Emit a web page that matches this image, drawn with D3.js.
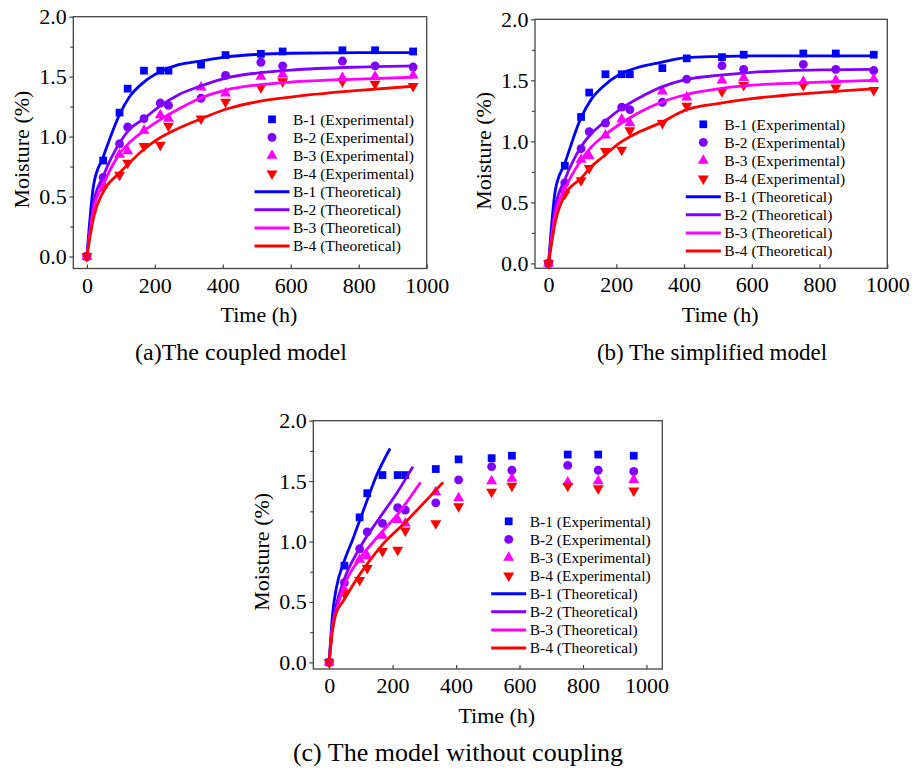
<!DOCTYPE html>
<html>
<head>
<meta charset="utf-8">
<script src="https://cdnjs.cloudflare.com/ajax/libs/d3/7.8.5/d3.min.js"></script>
<style>
    body { margin: 0; background: #fff; }
    svg text { font-family: "Liberation Serif", "Times New Roman", serif !important; fill: #000; }
    .tick line { stroke: #444; stroke-width: 1.2; }
</style>
</head>
<body>
<script>
// ---- data ----
var seriesNames = ["B-1", "B-2", "B-3", "B-4"];
var seriesColors = ["#0000ff", "#8000ff", "#ff00ff", "#ff0000"];

// experimental points (same in all three panels)
var expTime = [0, 48, 96, 120, 168, 216, 240, 336, 408, 512, 576, 752, 848, 960];
var expB1 = [0, 0.80, 1.20, 1.40, 1.55, 1.55, 1.55, 1.60, 1.68, 1.69, 1.71, 1.72, 1.72, 1.71];
var expB2 = [0, 0.66, 0.94, 1.08, 1.15, 1.28, 1.26, 1.32, 1.51, 1.62, 1.59, 1.63, 1.59, 1.58];
var expB3 = [0, 0.60, 0.85, 0.88, 1.05, 1.18, 1.15, 1.41, 1.36, 1.50, 1.52, 1.49, 1.50, 1.51];
var expB4 = [0, 0.57, 0.68, 0.78, 0.92, 0.93, 1.09, 1.15, 1.29, 1.41, 1.46, 1.46, 1.44, 1.42];

// (a) coupled model curves
var coupledTime = [0, 20, 48, 97, 125, 166, 215, 270, 333, 411, 500, 600, 800, 960];
var coupledB1 = [0, 0.60, 0.83, 1.19, 1.33, 1.45, 1.54, 1.60, 1.63, 1.665, 1.685, 1.695, 1.70, 1.70];
var coupledB2 = [0, 0.45, 0.67, 0.95, 1.06, 1.145, 1.255, 1.35, 1.42, 1.49, 1.53, 1.555, 1.58, 1.59];
var coupledB3 = [0, 0.40, 0.60, 0.86, 0.95, 1.045, 1.14, 1.23, 1.32, 1.39, 1.43, 1.455, 1.48, 1.495];
var coupledB4 = [0, 0.33, 0.54, 0.70, 0.78, 0.89, 0.99, 1.07, 1.145, 1.23, 1.29, 1.33, 1.385, 1.42];

// (b) simplified model curves
var simplifiedTime = [0, 20, 48, 97, 125, 161, 210, 270, 329, 407, 500, 600, 800, 960];
var simplifiedB1 = [0, 0.60, 0.82, 1.20, 1.34, 1.45, 1.55, 1.61, 1.645, 1.686, 1.695, 1.70, 1.70, 1.70];
var simplifiedB2 = [0, 0.46, 0.685, 0.96, 1.06, 1.15, 1.26, 1.36, 1.44, 1.507, 1.54, 1.565, 1.585, 1.59];
var simplifiedB3 = [0, 0.41, 0.61, 0.85, 0.95, 1.04, 1.14, 1.24, 1.316, 1.384, 1.43, 1.46, 1.485, 1.50];
var simplifiedB4 = [0, 0.34, 0.56, 0.70, 0.79, 0.874, 0.987, 1.08, 1.15, 1.26, 1.31, 1.35, 1.40, 1.43];

// (c) model without coupling curves (stop early)
var uncoupledTimeB1 = [0, 10, 23, 45, 76, 97, 118, 150, 192];
var uncoupledB1 = [0, 0.38, 0.62, 0.82, 1.03, 1.18, 1.33, 1.55, 1.77];
var uncoupledTimeB2 = [0, 10, 23, 45, 97, 160, 213, 264];
var uncoupledB2 = [0, 0.30, 0.48, 0.67, 0.95, 1.20, 1.40, 1.62];
var uncoupledTimeB3 = [0, 10, 23, 45, 97, 160, 223, 288];
var uncoupledB3 = [0, 0.28, 0.43, 0.62, 0.86, 1.06, 1.25, 1.49];
var uncoupledTimeB4 = [0, 10, 21, 45, 97, 160, 244, 359];
var uncoupledB4 = [0, 0.25, 0.40, 0.51, 0.73, 0.95, 1.17, 1.49];

var xTicks = [0, 200, 400, 600, 800, 1000];
var yTicks = [0, 0.5, 1.0, 1.5, 2.0];
var yMinorTicks = [0.25, 0.75, 1.25, 1.75];
var xTitle = "Time (h)";
var yTitle = "Moisture (%)";
var captions = ["(a)The coupled model", "(b) The simplified model", "(c) The model without coupling"];

// ---- drawing ----
var svg = d3.select("body").append("svg").attr("width", 914).attr("height", 770);

var symbols = [
    d3.symbol().type(d3.symbolSquare).size(60),
    d3.symbol().type(d3.symbolCircle).size(62),
    d3.symbol().type(d3.symbolTriangle).size(52),
    d3.symbol().type(d3.symbolTriangle).size(52)
];

function drawPanel(p) {
    var g = svg.append("g");
    var x = d3.scaleLinear().domain(p.xDomain).range([p.left, p.right]);
    var y = d3.scaleLinear().domain(p.yDomain).range([p.bottom, p.top]);

    // y axis, ticks pointing out
    var yAxis = g.append("g")
        .attr("transform", "translate(" + p.left + ",0)")
        .call(d3.axisLeft(y).tickValues(yTicks).tickFormat(d3.format(".1f")).tickSizeInner(4).tickSizeOuter(0).tickPadding(2.5));
    yAxis.select(".domain").remove();
    yAxis.selectAll("text").style("font-size", "22px");

    var yMinor = g.append("g")
        .attr("transform", "translate(" + p.left + ",0)")
        .call(d3.axisLeft(y).tickValues(yMinorTicks).tickFormat("").tickSizeInner(3).tickSizeOuter(0));
    yMinor.select(".domain").remove();

    // x axis, ticks pointing in
    var xAxis = g.append("g")
        .attr("transform", "translate(0," + p.bottom + ")")
        .call(d3.axisBottom(x).tickValues(xTicks).tickFormat(d3.format("d")).tickSizeInner(-4).tickSizeOuter(0).tickPadding(8.5));
    xAxis.select(".domain").remove();
    xAxis.selectAll("text").style("font-size", "22px");

    // frame
    g.append("rect")
        .attr("x", p.left).attr("y", p.top)
        .attr("width", p.right - p.left).attr("height", p.bottom - p.top)
        .attr("fill", "none").attr("stroke", "#444").attr("stroke-width", 1.3);

    // experimental points
    var expValues = [expB1, expB2, expB3, expB4];
    expValues.forEach(function (vals, i) {
        g.selectAll(null)
            .data(expTime.map(function (t, k) { return {t: t, v: vals[k]}; }))
            .enter().append("path")
            .attr("d", symbols[i])
            .attr("fill", seriesColors[i])
            .attr("transform", function (d) {
                return "translate(" + x(d.t) + "," + y(d.v) + ")" + (i === 3 ? " rotate(180)" : "");
            });
    });

    // theoretical curves
    var line = d3.line()
        .x(function (d) { return x(d.t); })
        .y(function (d) { return y(d.v); })
        .curve(d3.curveMonotoneX);

    p.theory.forEach(function (s, i) {
        g.append("path")
            .datum(s.time.map(function (t, k) { return {t: t, v: s.values[k]}; }))
            .attr("fill", "none")
            .attr("stroke", seriesColors[i])
            .attr("stroke-width", 2.8)
            .attr("d", line);
    });

    // legend
    var leg = g.append("g").style("font-size", "15.5px");
    var rowH = 18.1;
    seriesNames.forEach(function (name, i) {
        var yy = p.legendY + i * rowH;
        leg.append("path")
            .attr("d", symbols[i])
            .attr("fill", seriesColors[i])
            .attr("transform", "translate(" + p.legendX + "," + yy + ")" + (i === 3 ? " rotate(180)" : ""));
        leg.append("text")
            .attr("x", p.legendX + 21).attr("y", yy).attr("dy", "0.35em")
            .text(name + " (Experimental)");
    });
    seriesNames.forEach(function (name, i) {
        var yy = p.legendY + (i + 4) * rowH;
        leg.append("line")
            .attr("x1", p.legendX - 17.5).attr("x2", p.legendX + 17.5)
            .attr("y1", yy).attr("y2", yy)
            .attr("stroke", seriesColors[i]).attr("stroke-width", 3);
        leg.append("text")
            .attr("x", p.legendX + 21).attr("y", yy).attr("dy", "0.35em")
            .text(name + " (Theoretical)");
    });

    // axis titles
    g.append("text")
        .attr("transform", "translate(" + (p.left - 51.6) + "," + ((p.top + p.bottom) / 2 + 7) + ") rotate(-90)")
        .attr("text-anchor", "middle").attr("dy", "0.35em")
        .style("font-size", "22px")
        .text(yTitle);
    g.append("text")
        .attr("x", (p.left + p.right) / 2 + 9).attr("y", p.bottom + 46)
        .attr("text-anchor", "middle").attr("dy", "0.35em")
        .style("font-size", "22px")
        .text(xTitle);

    // caption
    g.append("text")
        .attr("x", p.captionX).attr("y", p.captionY)
        .attr("text-anchor", "middle").attr("dy", "0.35em")
        .style("font-size", p.captionSize + "px")
        .text(p.caption);
}

drawPanel({
    left: 73.3, right: 426.7, top: 16.7, bottom: 268.5,
    xDomain: [-40, 1000], yDomain: [-0.1, 2.0],
    legendX: 272, legendY: 119.3,
    theory: [
        {time: coupledTime, values: coupledB1},
        {time: coupledTime, values: coupledB2},
        {time: coupledTime, values: coupledB3},
        {time: coupledTime, values: coupledB4}
    ],
    caption: captions[0], captionX: 241, captionY: 352, captionSize: 24
});

drawPanel({
    left: 535, right: 887.3, top: 19.3, bottom: 268.3,
    xDomain: [-40, 1000], yDomain: [-0.04, 2.0],
    legendX: 703.3, legendY: 124.3,
    theory: [
        {time: simplifiedTime, values: simplifiedB1},
        {time: simplifiedTime, values: simplifiedB2},
        {time: simplifiedTime, values: simplifiedB3},
        {time: simplifiedTime, values: simplifiedB4}
    ],
    caption: captions[1], captionX: 712, captionY: 352, captionSize: 23
});

drawPanel({
    left: 313.3, right: 662.3, top: 420.7, bottom: 669,
    xDomain: [-50, 1050], yDomain: [-0.055, 2.0],
    legendX: 508.7, legendY: 521.3,
    theory: [
        {time: uncoupledTimeB1, values: uncoupledB1},
        {time: uncoupledTimeB2, values: uncoupledB2},
        {time: uncoupledTimeB3, values: uncoupledB3},
        {time: uncoupledTimeB4, values: uncoupledB4}
    ],
    caption: captions[2], captionX: 458, captionY: 752, captionSize: 26
});
</script>
</body>
</html>
